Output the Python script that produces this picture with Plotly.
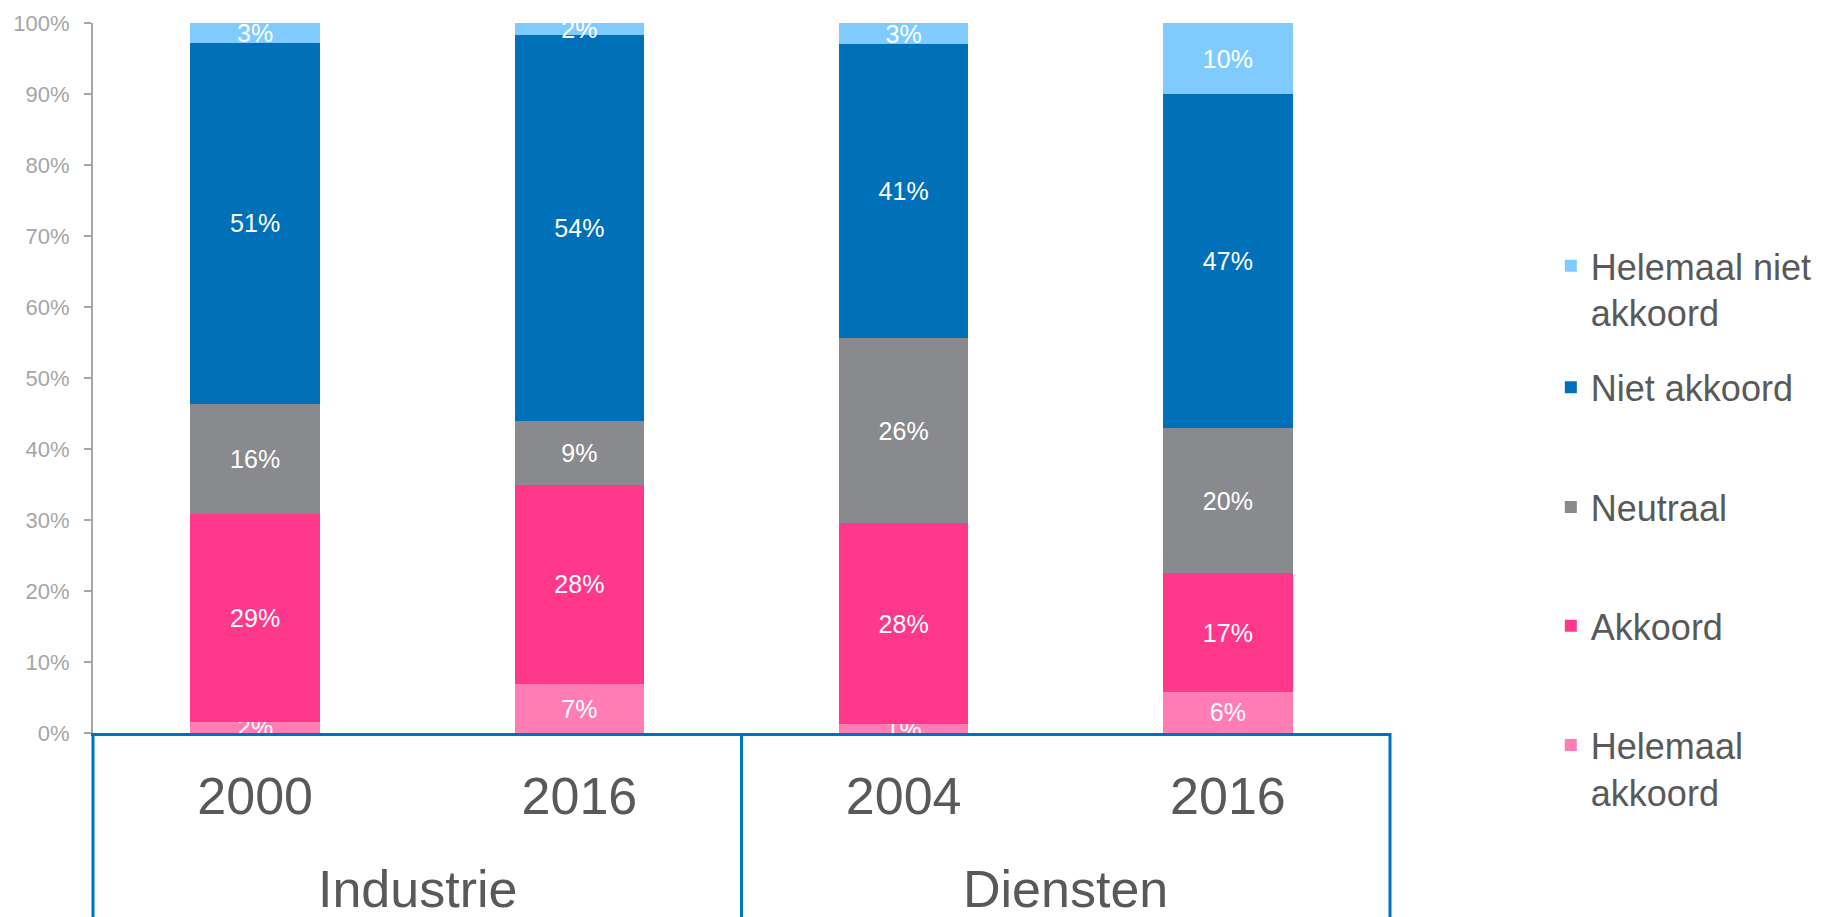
import plotly.graph_objects as go

# ---- data ----
sectors = ["Industrie", "Industrie", "Diensten", "Diensten"]
years = ["2000", "2016", "2004", "2016"]
group_names = ["Industrie", "Diensten"]
helemaal_akkoord = [1.6, 6.9, 1.2, 5.8]
akkoord = [29.2, 28.1, 28.4, 16.7]
neutraal = [15.6, 8.9, 26.0, 20.4]
niet_akkoord = [50.8, 54.4, 41.4, 47.1]
helemaal_niet_akkoord = [2.8, 1.7, 3.0, 10.0]
y_ticks = [0, 10, 20, 30, 40, 50, 60, 70, 80, 90, 100]
y_tick_labels = [f"{v}%" for v in y_ticks]

series = [
    ("Helemaal<br>akkoord", helemaal_akkoord, "#FF7DB4", "legend5"),
    ("Akkoord", akkoord, "#FF388C", "legend4"),
    ("Neutraal", neutraal, "#898A8D", "legend3"),
    ("Niet akkoord", niet_akkoord, "#0070B8", "legend2"),
    ("Helemaal niet<br>akkoord", helemaal_niet_akkoord, "#7FCBFF", "legend"),
]

FONT = "Liberation Sans, Arial, sans-serif"
TXT = "#595959"
BOX = "#0070C0"

cat_ids = [f"{s} {y}" for s, y in zip(sectors, years)]

fig = go.Figure()
for name, vals, color, leg in series:
    fig.add_trace(go.Bar(
        x=cat_ids, y=vals, name=name, legend=leg,
        marker=dict(color=color, line=dict(width=0)),
        text=[f"{v:.0f}%" for v in vals],
        textposition="inside", insidetextanchor="middle",
        constraintext="none", cliponaxis=False,
        textfont=dict(family=FONT, size=25, color="white"),
        hoverinfo="skip",
    ))

def leg(y):
    return dict(x=1.124, xanchor="left", y=y, yanchor="middle",
                font=dict(family=FONT, size=36, color=TXT),
                bgcolor="rgba(0,0,0,0)", valign="top", itemwidth=30)

# category box (multi-level axis frame)
n_groups = len(group_names)
shapes = []
for i in range(n_groups + 1):
    xp = i / n_groups
    shapes.append(dict(type="line", xref="paper", yref="paper",
                       x0=xp, x1=xp, y0=0, y1=-0.35,
                       line=dict(color=BOX, width=3)))
annotations = []
for i, g in enumerate(group_names):
    annotations.append(dict(text=g, xref="paper", yref="paper",
                            x=(i + 0.5) / n_groups, y=-0.2197,
                            xanchor="center", yanchor="middle", showarrow=False,
                            font=dict(family=FONT, size=52, color=TXT)))

fig.update_layout(
    barmode="stack", bargap=0.6,
    width=1829, height=917,
    margin=dict(l=93, r=431, t=23, b=184),
    paper_bgcolor="white", plot_bgcolor="white",
    font=dict(family=FONT),
    showlegend=True,
    legend=leg(0.625), legend2=leg(0.487), legend3=leg(0.318),
    legend4=leg(0.151), legend5=leg(-0.05),
    uniformtext=dict(minsize=25, mode="show"),
    shapes=shapes, annotations=annotations,
)
fig.update_yaxes(
    range=[0, 100], tickvals=y_ticks, ticktext=y_tick_labels,
    showgrid=False, zeroline=False,
    showline=True, linecolor="#A6A6A6", linewidth=2,
    ticks="outside", ticklen=7, tickcolor="#A6A6A6", tickwidth=2,
    tickfont=dict(family=FONT, size=22, color="#A6A6A6"),
    ticklabelstandoff=10,
)
fig.update_xaxes(
    type="category", categoryorder="array", categoryarray=cat_ids,
    tickvals=cat_ids, ticktext=years,
    showgrid=False, zeroline=False,
    showline=True, linecolor=BOX, linewidth=3,
    ticks="", tickfont=dict(family=FONT, size=52, color=TXT),
    automargin=False, ticklabelstandoff=16,
)

fig.write_html("out.html", config={"displayModeBar": False},
               post_script="document.body.style.margin='0';document.body.style.overflow='hidden';")
